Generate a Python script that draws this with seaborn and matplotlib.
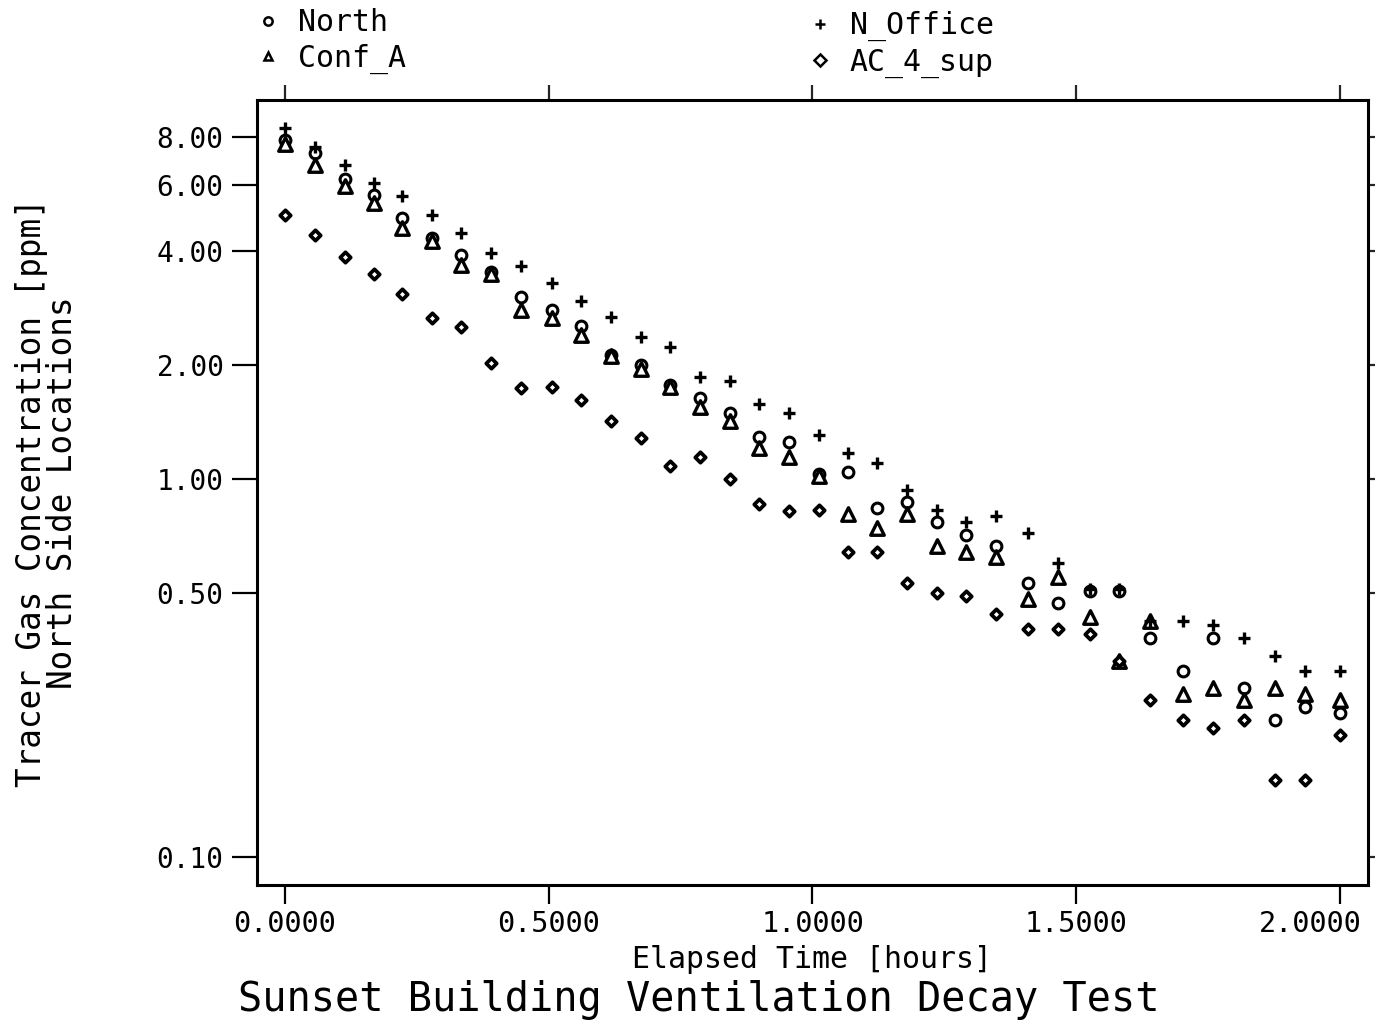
import matplotlib
matplotlib.use("Agg")
import pandas as pd
import seaborn as sns
from matplotlib import pyplot as plt
from matplotlib.lines import Line2D
from matplotlib.transforms import ScaledTranslation
from matplotlib.ticker import FixedLocator, FormatStrFormatter, NullLocator

# sample times, hours
hours = [0.000, 0.057, 0.114, 0.169, 0.222, 0.279, 0.334, 0.391, 0.447,
         0.506, 0.561, 0.618, 0.675, 0.730, 0.787, 0.844, 0.899, 0.955,
         1.012, 1.067, 1.122, 1.179, 1.236, 1.291, 1.348, 1.409, 1.465,
         1.526, 1.581, 1.640, 1.702, 1.759, 1.818, 1.877, 1.934, 2.000]

# concentrations, ppm
north = [7.90, 7.29, 6.22, 5.64, 4.90, 4.35, 3.92, 3.53, 3.03, 2.80, 2.54,
         2.13, 2.00, 1.77, 1.64, 1.49, 1.29, 1.25, 1.03, 1.04, 0.84, 0.87,
         0.77, 0.71, 0.665, 0.53, 0.47, 0.505, 0.505, 0.38, 0.31, 0.38,
         0.28, 0.23, 0.25, 0.24]
conf_a = [7.70, 6.77, 5.96, 5.37, 4.61, 4.25, 3.68, 3.49, 2.80, 2.66, 2.40,
          2.11, 1.95, 1.75, 1.55, 1.42, 1.21, 1.14, 1.02, 0.81, 0.74, 0.81,
          0.665, 0.64, 0.62, 0.48, 0.55, 0.43, 0.33, 0.42, 0.27, 0.28,
          0.26, 0.28, 0.27, 0.26]
n_office = [8.48, 7.56, 6.77, 6.06, 5.60, 4.99, 4.47, 3.96, 3.66, 3.30, 2.96,
            2.68, 2.38, 2.23, 1.86, 1.82, 1.58, 1.49, 1.31, 1.17, 1.10, 0.935,
            0.83, 0.77, 0.80, 0.72, 0.60, 0.51, 0.51, 0.42, 0.42, 0.41,
            0.38, 0.34, 0.31, 0.31]
ac_4_sup = [4.99, 4.42, 3.87, 3.49, 3.09, 2.67, 2.52, 2.03, 1.74, 1.75, 1.62,
            1.42, 1.28, 1.08, 1.14, 1.00, 0.86, 0.82, 0.83, 0.64, 0.64, 0.53,
            0.50, 0.49, 0.44, 0.40, 0.40, 0.39, 0.33, 0.26, 0.23, 0.22,
            0.23, 0.16, 0.16, 0.21]

locations = ["North", "Conf_A", "N_Office", "AC_4_sup"]
series = [north, conf_a, n_office, ac_4_sup]

x_ticks = [0.0, 0.5, 1.0, 1.5, 2.0]
y_ticks = [0.10, 0.50, 1.00, 2.00, 4.00, 6.00, 8.00]

df = pd.DataFrame({
    "hours": hours * len(locations),
    "ppm": [v for s in series for v in s],
    "location": [name for name in locations for _ in hours],
})

sns.set_style("ticks")
plt.rcParams["font.family"] = ["DejaVu Sans Mono"]
plt.rcParams["text.color"] = "black"
plt.rcParams["axes.labelcolor"] = "black"
plt.rcParams["axes.linewidth"] = 2.2

marker_kws = {
    "North": dict(marker="o", s=60, facecolor="white", edgecolor="black", linewidth=2.2),
    "Conf_A": dict(marker="^", s=95, facecolor="white", edgecolor="black", linewidth=2.4),
    "N_Office": dict(marker="+", s=70, color="black", linewidth=2.4),
    "AC_4_sup": dict(marker="D", s=28, facecolor="white", edgecolor="black", linewidth=2.7),
}

fig = plt.figure(figsize=(13.75, 10.32), dpi=100)
ax = fig.add_axes([0.1869, 0.1424, 0.8080, 0.7607])

for name in locations:
    sns.scatterplot(data=df[df["location"] == name], x="hours", y="ppm",
                    ax=ax, zorder=3, legend=False, **marker_kws[name])

ax.set_yscale("log")
ax.set_xlim(-0.053, 2.053)
ax.set_ylim(0.0843, 10.05)

ax.xaxis.set_major_locator(FixedLocator(x_ticks))
ax.xaxis.set_major_formatter(FormatStrFormatter("%.4f"))
ax.yaxis.set_major_locator(FixedLocator(y_ticks))
ax.yaxis.set_major_formatter(FormatStrFormatter("%.2f"))
ax.yaxis.set_minor_locator(NullLocator())
ax.xaxis.set_minor_locator(NullLocator())

ax.tick_params(axis="x", direction="out", length=14, width=1.6, pad=4,
               labelsize=20.5, colors="black")
ax.tick_params(axis="y", direction="out", length=18, width=1.6, pad=6,
               labelsize=20, colors="black")

# last x label pulled left so it stays inside the figure
last = ax.get_xticklabels()[-1]
last.set_transform(last.get_transform() + ScaledTranslation(-0.30, 0, fig.dpi_scale_trans))

# extra ticks on top and right, no labels
top = ax.secondary_xaxis("top")
top.xaxis.set_major_locator(FixedLocator(x_ticks))
top.tick_params(direction="out", length=11, width=1.6, labeltop=False)
top.xaxis.set_minor_locator(NullLocator())
right = ax.secondary_yaxis("right")
right.set_yscale("log")
right.yaxis.set_major_locator(FixedLocator(y_ticks))
right.yaxis.set_minor_locator(NullLocator())
right.tick_params(direction="out", length=5, width=1.6, labelright=False)

for sp in ax.spines.values():
    sp.set_linewidth(2.2)
    sp.set_color("black")
top.spines["top"].set_linewidth(0)
right.spines["right"].set_linewidth(0)

ax.set_xlabel("Elapsed Time [hours]", fontsize=21.5, labelpad=5)
ax.set_ylabel("Tracer Gas Concentration [ppm]\nNorth Side Locations",
              fontsize=23.5, linespacing=0.95)
ax.yaxis.set_label_coords(-0.160, 0.5)

fig.text(0.508, 0.031, "Sunset Building Ventilation Decay Test",
         ha="center", va="center", fontsize=29)

# legend in two columns above the plot
handles = {
    name: Line2D([], [], linestyle="none", color="black",
                 marker=marker_kws[name]["marker"],
                 markersize=6 if name != "N_Office" else 7,
                 markerfacecolor="white", markeredgecolor="black",
                 markeredgewidth=1.8)
    for name in locations
}
leg_kws = dict(frameon=False, fontsize=21.5, handlelength=0.6, handletextpad=0.7,
               labelspacing=0.22, borderpad=0, borderaxespad=0, loc="upper left")
fig.legend([handles["North"], handles["Conf_A"]], ["North", "Conf_A"],
           bbox_to_anchor=(259 / 1375, 1 - 8 / 1032), **leg_kws)
fig.legend([handles["N_Office"], handles["AC_4_sup"]], ["N_Office", "AC_4_sup"],
           bbox_to_anchor=(811 / 1375, 1 - 11 / 1032), **leg_kws)

fig.savefig("out.png", dpi=100)
